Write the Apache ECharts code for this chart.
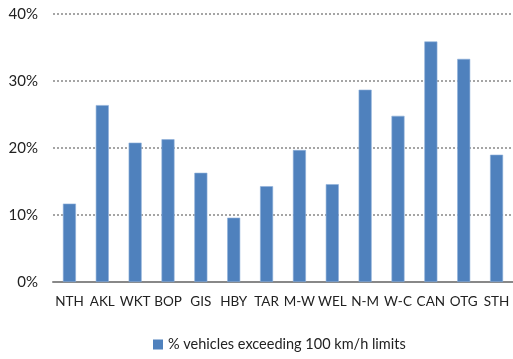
<!DOCTYPE html>
<html>
<head>
<meta charset="utf-8">
<script src="https://cdn.jsdelivr.net/npm/echarts@6/dist/echarts.min.js"></script>
<style>
  html, body { margin: 0; padding: 0; background: #fff; }
  #chart { width: 513px; height: 359px; }
</style>
</head>
<body>
<div id="chart"></div>
<script>
// Regions and share of vehicles over the 100 km/h limit (percent)
var regions = ['NTH', 'AKL', 'WKT', 'BOP', 'GIS', 'HBY', 'TAR', 'M-W', 'WEL', 'N-M', 'W-C', 'CAN', 'OTG', 'STH'];
var pctExceeding = [11.7, 26.4, 20.8, 21.3, 16.3, 9.6, 14.3, 19.7, 14.6, 28.7, 24.8, 35.9, 33.3, 19.0];
var seriesName = '% vehicles exceeding 100 km/h limits';
var yTicks = [0, 10, 20, 30, 40];

var font = 'Lato, "Open Sans", sans-serif';
var chart = echarts.init(document.getElementById('chart'), null, { renderer: 'canvas' });
chart.setOption({
  animation: false,
  textStyle: { fontFamily: font },
  grid: { left: 53, top: 14, width: 465, height: 268, containLabel: false },
  legend: {
    bottom: 2,
    left: 148,
    itemWidth: 10,
    itemHeight: 10,
    icon: 'rect',
    itemGap: 4,
    itemStyle: { borderWidth: 0 },
    textStyle: { fontFamily: font, fontSize: 14.5, color: '#222' },
    data: [seriesName]
  },
  xAxis: {
    type: 'category',
    data: regions,
    axisLine: { lineStyle: { color: '#888', width: 2 } },
    axisTick: { show: false },
    axisLabel: { fontFamily: font, fontSize: 13.5, color: '#222', margin: 13, interval: 0 }
  },
  yAxis: {
    type: 'value',
    min: yTicks[0],
    max: yTicks[yTicks.length - 1],
    interval: 10,
    axisLine: { show: false },
    axisTick: { show: false },
    axisLabel: {
      fontFamily: font, fontSize: 15, color: '#222', margin: 15,
      formatter: function (v) { return v + '%'; }
    },
    splitLine: { lineStyle: { color: '#888', type: [2, 2], width: 1.5 } }
  },
  series: [{
    name: seriesName,
    type: 'bar',
    data: pctExceeding,
    barWidth: 13,
    itemStyle: { color: '#4F81BD', borderColor: '#8EB0DA', borderWidth: 0.6 }
  }]
});
</script>
</body>
</html>
